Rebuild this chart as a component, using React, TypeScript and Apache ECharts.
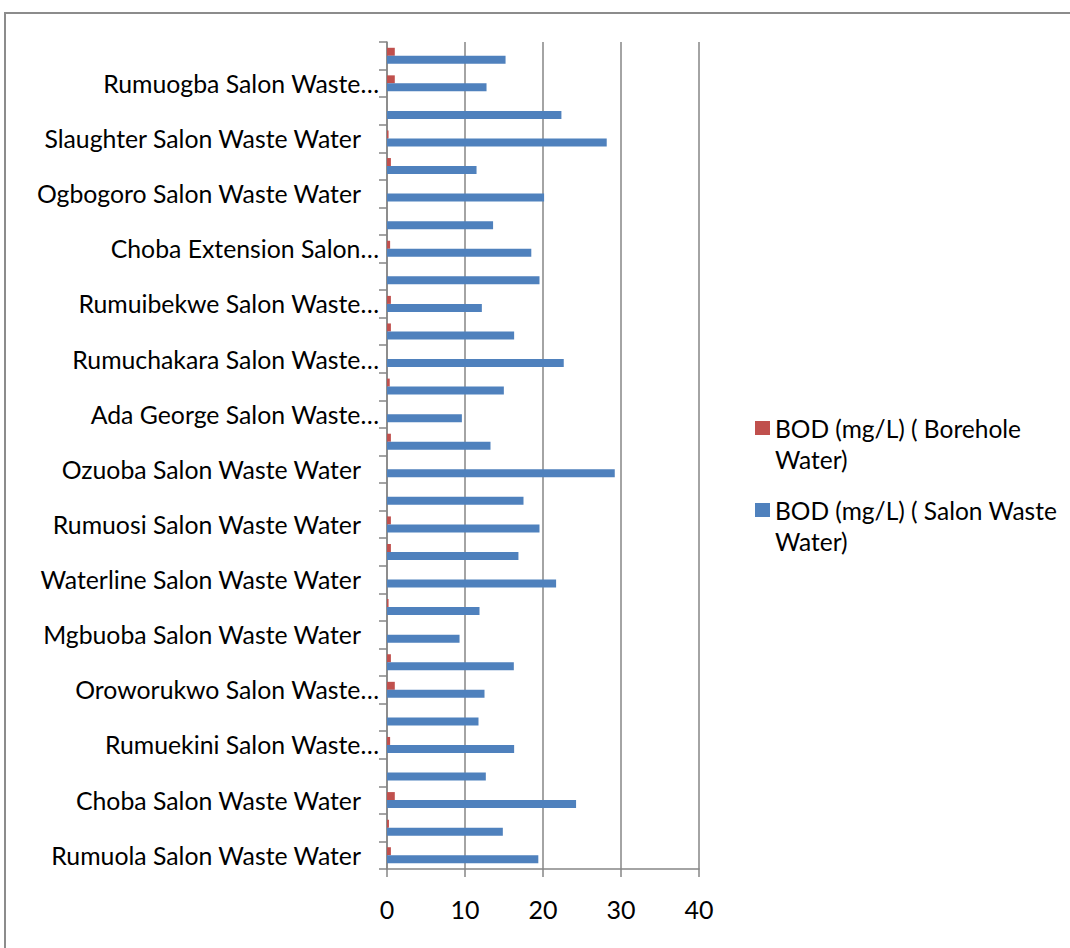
import React, { useEffect, useRef } from "react";
import * as echarts from "echarts";

// Categories from bottom (index 0) to top; odd rows have no visible label
const categories: string[] = [
  "Rumuola Salon Waste Water", "",
  "Choba Salon Waste Water", "",
  "Rumuekini Salon Waste…", "",
  "Oroworukwo Salon Waste…", "",
  "Mgbuoba Salon Waste Water", "",
  "Waterline Salon Waste Water", "",
  "Rumuosi Salon Waste Water", "",
  "Ozuoba Salon Waste Water", "",
  "Ada George Salon Waste…", "",
  "Rumuchakara Salon Waste…", "",
  "Rumuibekwe Salon Waste…", "",
  "Choba Extension Salon…", "",
  "Ogbogoro Salon Waste Water", "",
  "Slaughter Salon Waste Water", "",
  "Rumuogba Salon Waste…", "",
];

const seriesNames: string[] = [
  "BOD (mg/L) ( Borehole Water)",
  "BOD (mg/L) ( Salon Waste Water)",
];

const boreholeBOD: number[] = [
  0.5, 0.25, 1.0, 0, 0.4, 0, 1.0, 0.5, 0, 0.2,
  0, 0.5, 0.5, 0, 0, 0.5, 0, 0.35, 0, 0.5,
  0.5, 0, 0.4, 0, 0, 0.5, 0.2, 0, 1.0, 1.0,
];

const salonBOD: number[] = [
  19.4, 14.85, 24.24, 12.67, 16.3, 11.73, 12.5, 16.26, 9.3, 11.86,
  21.68, 16.85, 19.55, 17.5, 29.2, 13.27, 9.6, 14.98, 22.66, 16.3,
  12.16, 19.55, 18.5, 13.6, 20.14, 11.48, 28.17, 22.36, 12.76, 15.2,
];

const xTicks = { min: 0, max: 40, interval: 10 };

const FONT = "Lato";
const GRID_COLOR = "#868686";

export default function App() {
  const ref = useRef<HTMLDivElement>(null);

  useEffect(() => {
    if (!ref.current) return;
    const chart = echarts.init(ref.current, null, { renderer: "svg" });

    const legendCommon = (name: string, top: number) => ({
      data: [name],
      left: 755,
      top,
      orient: "vertical",
      icon: "rect",
      itemWidth: 15,
      itemHeight: 14,
      padding: 0,
      selectedMode: false,
      formatter: (n: string) => "\n" + n.replace(/ Water\)$/, "\nWater)"),
      textStyle: {
        fontFamily: FONT,
        fontSize: 24.5,
        lineHeight: 31,
        color: "#000",
      },
    });

    chart.setOption({
      animation: false,
      backgroundColor: "#fff",
      grid: { left: 387, right: 371, top: 42, bottom: 79, containLabel: false },
      graphic: [
        {
          type: "rect",
          shape: { x: 5, y: 13, width: 1200, height: 1100 },
          style: { fill: "none", stroke: "#8c8c8c", lineWidth: 2 },
          silent: true,
        },
      ],
      legend: [legendCommon(seriesNames[0], 381.5), legendCommon(seriesNames[1], 463.5)],
      xAxis: {
        type: "value",
        min: xTicks.min,
        max: xTicks.max,
        interval: xTicks.interval,
        axisLine: { show: true, lineStyle: { color: GRID_COLOR, width: 1.5 } },
        axisTick: { show: true, length: 8, lineStyle: { color: GRID_COLOR, width: 1.5 } },
        splitLine: { show: true, lineStyle: { color: GRID_COLOR, width: 1.5 } },
        axisLabel: { fontFamily: FONT, fontSize: 25, color: "#000", margin: 27 },
      },
      yAxis: {
        type: "category",
        data: categories,
        axisLine: { show: true, lineStyle: { color: GRID_COLOR, width: 1.5 } },
        axisTick: {
          show: true,
          interval: 0,
          length: 8,
          alignWithLabel: false,
          lineStyle: { color: GRID_COLOR, width: 1.5 },
        },
        splitLine: { show: false },
        axisLabel: {
          interval: 1,
          margin: 8,
          fontFamily: FONT,
          fontSize: 24.8,
          color: "#000",
          formatter: (v: string) => (v.endsWith("…") ? v : `{n|${v}}`),
          rich: {
            n: {
              fontFamily: FONT,
              fontSize: 24.8,
              color: "#000",
              padding: [0, 18, 0, 0],
            },
          },
        },
      },
      series: [
        {
          name: seriesNames[0],
          type: "bar",
          data: boreholeBOD,
          barWidth: 8,
          barGap: "0%",
          itemStyle: { color: "#C0504D" },
        },
        {
          name: seriesNames[1],
          type: "bar",
          data: salonBOD,
          barWidth: 8,
          barGap: "0%",
          itemStyle: { color: "#4F81BD" },
        },
      ],
    });

    return () => chart.dispose();
  }, []);

  return (
    <div
      ref={ref}
      style={{ position: "fixed", left: 0, top: 0, width: 1070, height: 948, background: "#fff" }}
    />
  );
}
